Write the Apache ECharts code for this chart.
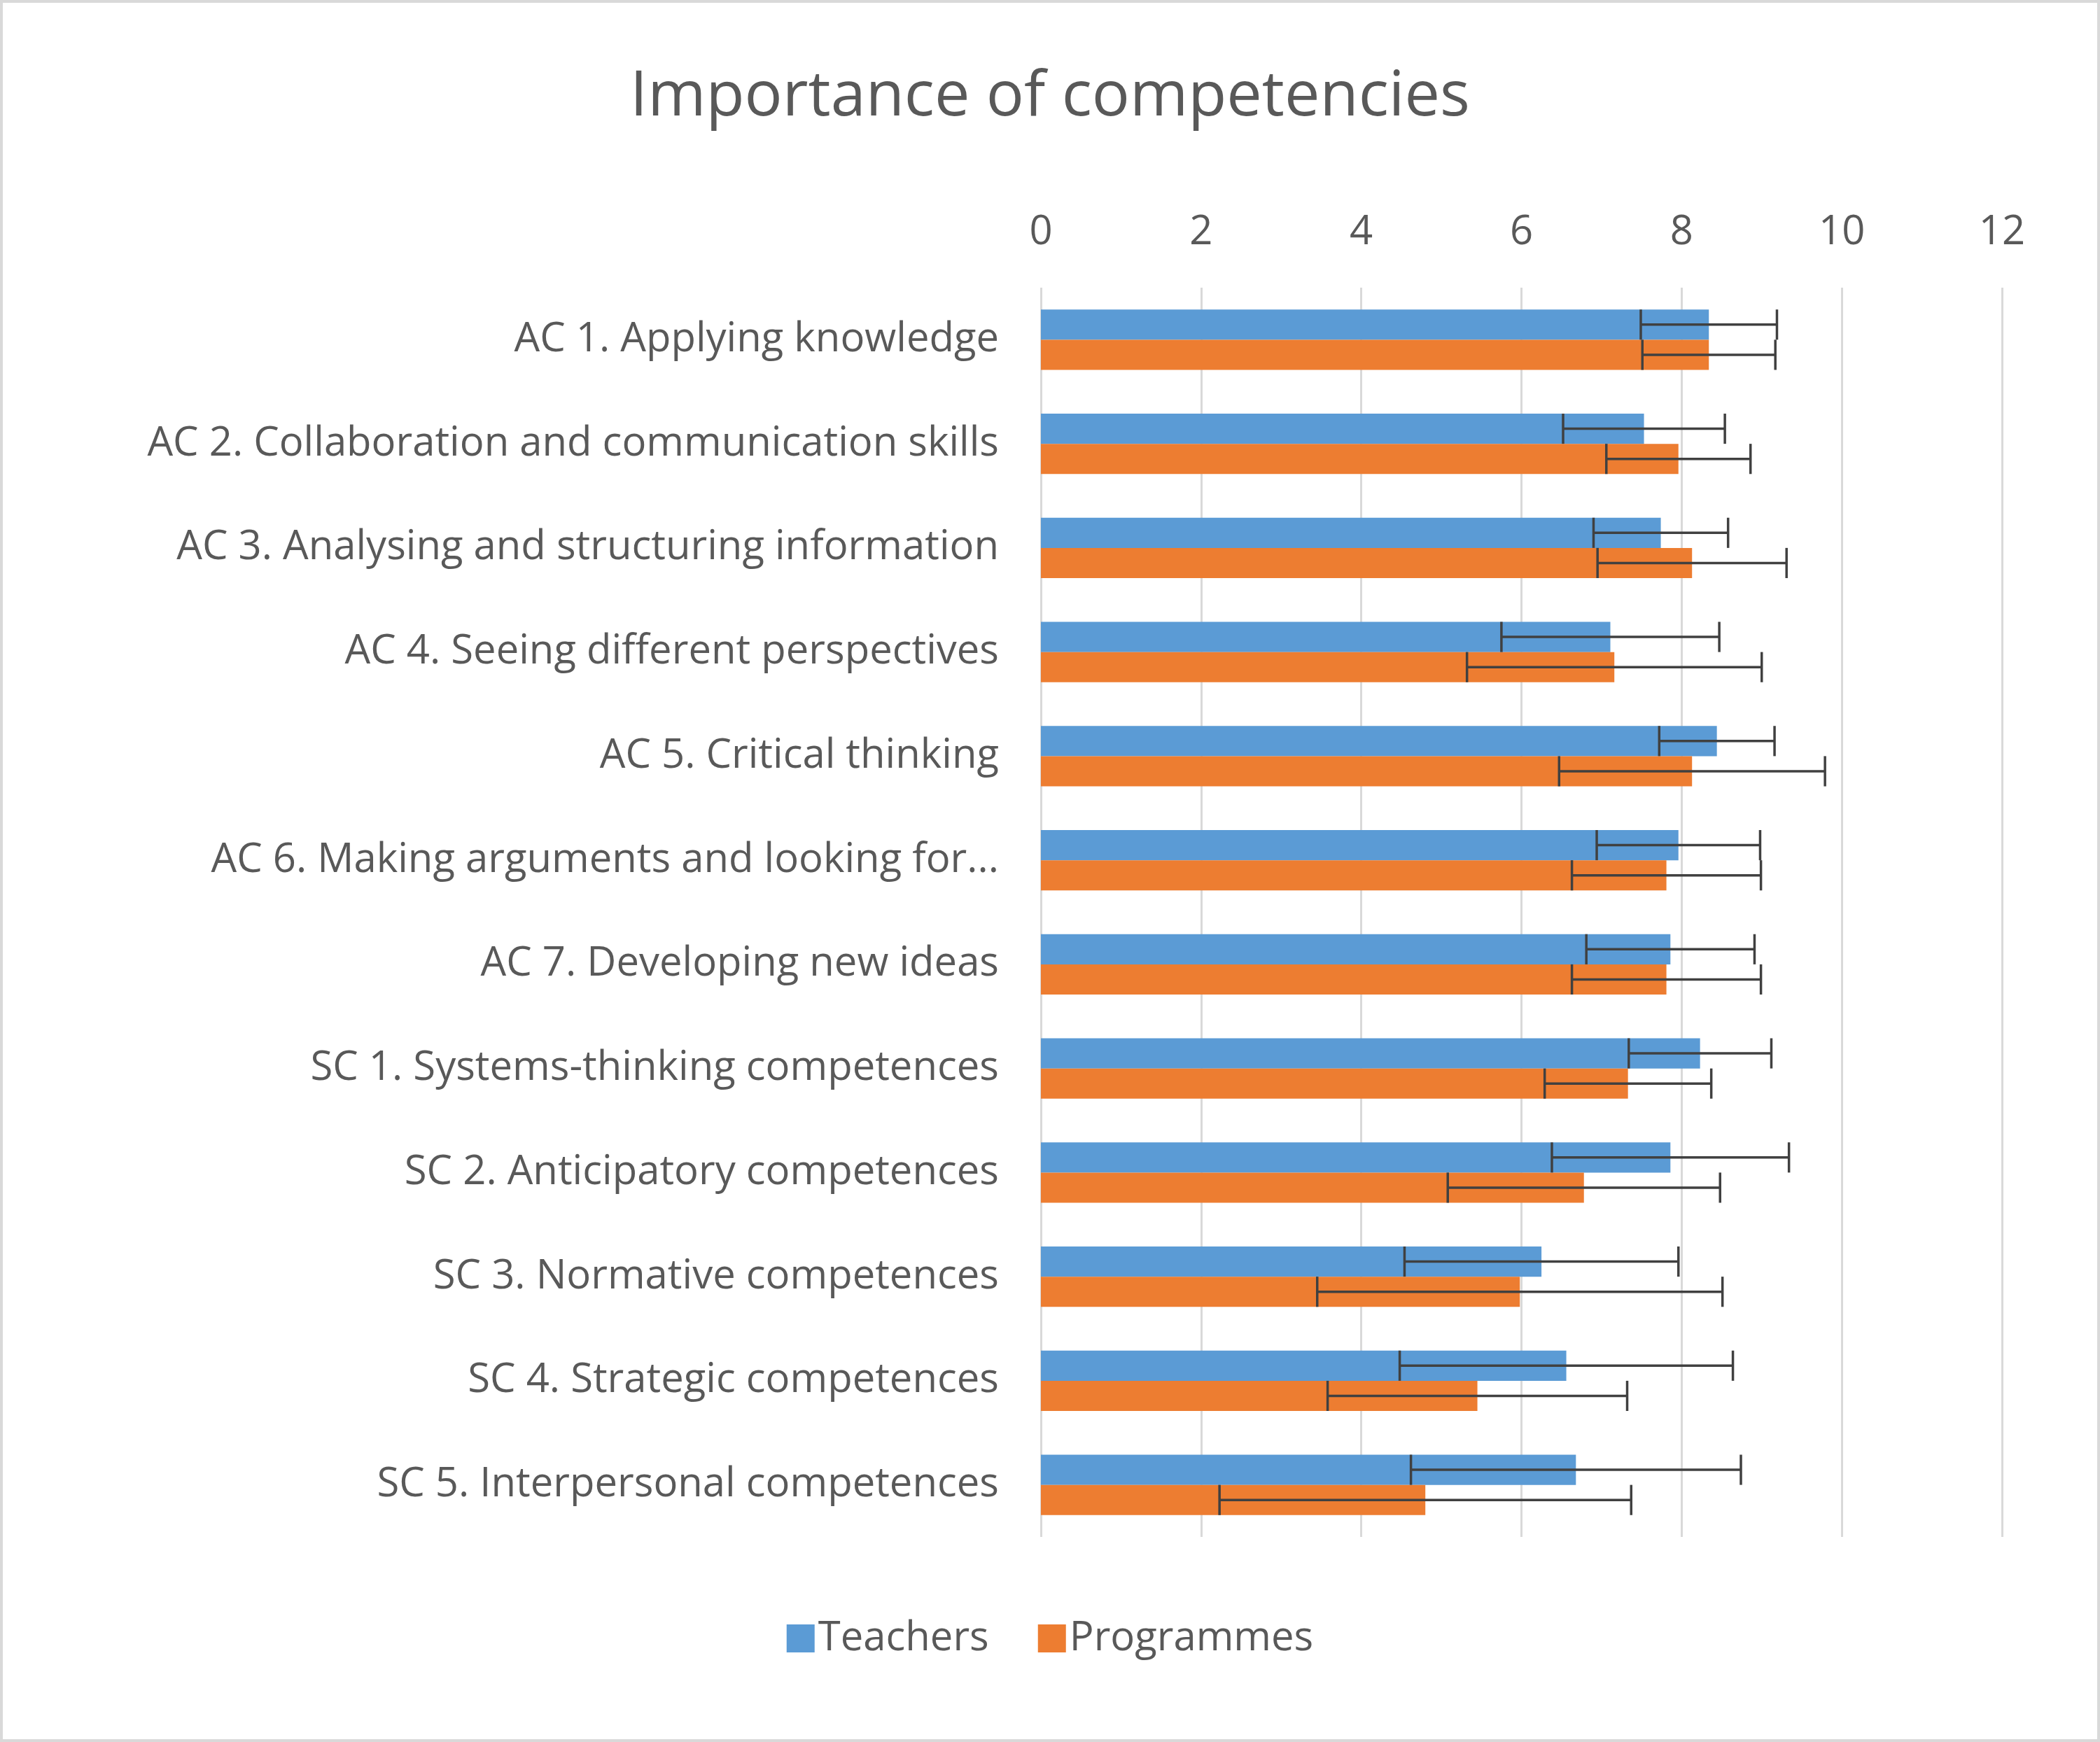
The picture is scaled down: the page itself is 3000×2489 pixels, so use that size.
<!DOCTYPE html>
<html><head><meta charset="utf-8">
<script src="https://cdn.jsdelivr.net/npm/echarts@6/dist/echarts.min.js"></script>
<style>html,body{margin:0;padding:0;background:#fff}#c{width:3000px;height:2489px;box-sizing:border-box;border:4px solid #d9d9d9}</style>
</head><body><div id="c"></div>
<script>
const categories = ["AC 1. Applying knowledge","AC 2. Collaboration and communication skills","AC 3. Analysing and structuring information","AC 4. Seeing different perspectives","AC 5. Critical thinking","AC 6. Making arguments and looking for...","AC 7. Developing new ideas","SC 1. Systems-thinking competences","SC 2. Anticipatory competences","SC 3. Normative competences","SC 4. Strategic competences","SC 5. Interpersonal competences"];
const teachers = [8.34,7.53,7.74,7.11,8.44,7.96,7.86,8.23,7.86,6.25,6.56,6.68];
const teachersErr = [0.85,1.01,0.84,1.36,0.72,1.02,1.05,0.89,1.48,1.71,2.08,2.06];
const programmes = [8.34,7.96,8.13,7.16,8.13,7.81,7.81,7.33,6.78,5.98,5.45,4.80];
const programmesErr = [0.83,0.9,1.18,1.84,1.66,1.18,1.18,1.04,1.7,2.53,1.87,2.57];
const xTicks = [0,2,4,6,8,10,12];

const GAP = 0.42;
function errSeries(vals, errs, sign){
  return {type:'custom', silent:true, z:10,
    data: vals.map((v,i)=>[i, v-errs[i], v+errs[i]]),
    encode:{y:0, x:[1,2]},
    renderItem(params, api){
      const i = api.value(0);
      const band = api.size([0,1])[1];
      const bw = band*(1-GAP)/2;
      const p1 = api.coord([api.value(1), i]);
      const p2 = api.coord([api.value(2), i]);
      const y = p1[1] + sign*bw/2;
      const h = bw*0.5;
      const st = {stroke:'#404040', lineWidth:3.5};
      return {type:'group', children:[
        {type:'line', shape:{x1:p1[0],y1:y,x2:p2[0],y2:y}, style:st},
        {type:'line', shape:{x1:p1[0],y1:y-h,x2:p1[0],y2:y+h}, style:st},
        {type:'line', shape:{x1:p2[0],y1:y-h,x2:p2[0],y2:y+h}, style:st}
      ]};
    }};
}
const chart = echarts.init(document.getElementById('c'));
const font = 'Open Sans';
chart.setOption({
  animation:false,
  textStyle:{fontFamily:font},
  title:{text:'Importance of competencies', left:'center', top:85, textStyle:{fontFamily:font, fontSize:90, fontWeight:'normal', color:'#595959'}},
  legend:{bottom:110, left:'center', itemWidth:40, itemHeight:40, itemGap:70, icon:'rect',
    textStyle:{fontSize:58, color:'#595959', fontFamily:font}, data:['Teachers','Programmes']},
  grid:{left:1483, right:136, top:407, bottom:289},
  xAxis:{type:'value', position:'top', min:0, max:12, interval:2,
    axisLabel:{fontSize:58, color:'#595959', margin:50, formatter:v=>xTicks.includes(v)?String(v):''},
    splitLine:{lineStyle:{color:'#d9d9d9', width:3}}, axisLine:{show:false}, axisTick:{show:false}},
  yAxis:{type:'category', inverse:true, data:categories,
    axisLabel:{fontSize:58, color:'#595959', margin:60},
    axisLine:{show:false}, axisTick:{show:false}},
  series:[
    {name:'Teachers', type:'bar', data:teachers, barGap:'0%', barCategoryGap:(GAP*100)+'%', itemStyle:{color:'#5B9BD5'}},
    {name:'Programmes', type:'bar', data:programmes, itemStyle:{color:'#ED7D31'}},
    errSeries(teachers, teachersErr, -1),
    errSeries(programmes, programmesErr, 1)
  ]
});
</script></body></html>
